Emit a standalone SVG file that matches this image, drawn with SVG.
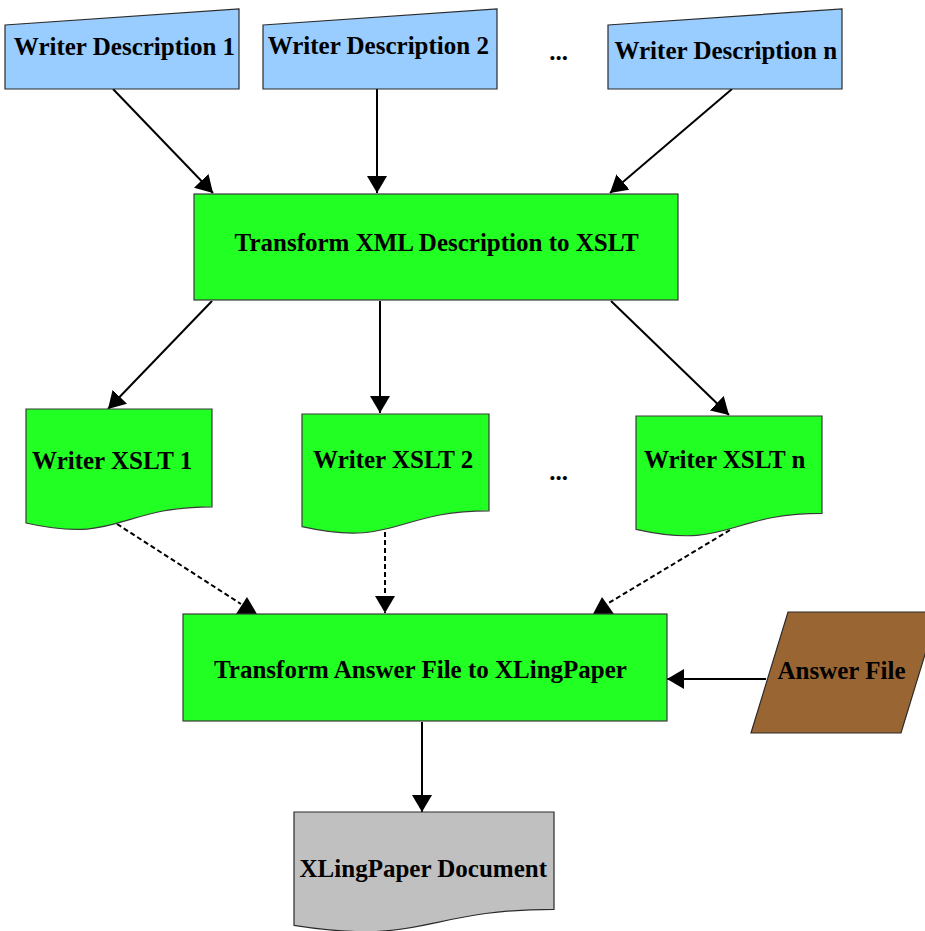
<svg xmlns="http://www.w3.org/2000/svg" width="925" height="931" viewBox="0 0 925 931">
<style>
.desc{fill:#99ccff;stroke:#2a2a2a;stroke-width:1.2}
.proc{fill:#22ff22;stroke:#3a3a3a;stroke-width:1.2}
.ans{fill:#996633;stroke:#2a2a2a;stroke-width:1.2}
.doc{fill:#c0c0c0;stroke:#2a2a2a;stroke-width:1.2}
.lbl{font-family:"Liberation Serif","Times New Roman",serif;font-weight:bold;font-size:25px;fill:#000;text-anchor:middle}
.edge{stroke:#000;stroke-width:2;fill:none}
.dash{stroke:#000;stroke-width:2;fill:none;stroke-dasharray:5 3}
.head{fill:#000}
</style>
<defs>
<marker id="arr" markerUnits="userSpaceOnUse" markerWidth="18" markerHeight="20" refX="17" refY="10" orient="auto" viewBox="0 0 18 20">
<path d="M0,0 L17,10 L0,20 z" fill="#000"/>
</marker>
</defs>
<g id="connectors">
<line class="edge" x1="113" y1="89" x2="213" y2="193" marker-end="url(#arr)"/>
<line class="edge" x1="377" y1="89" x2="377" y2="193" marker-end="url(#arr)"/>
<line class="edge" x1="732" y1="89" x2="610" y2="193" marker-end="url(#arr)"/>
<line class="edge" x1="212" y1="301" x2="108" y2="409" marker-end="url(#arr)"/>
<line class="edge" x1="380" y1="301" x2="380" y2="413" marker-end="url(#arr)"/>
<line class="edge" x1="611" y1="301" x2="729" y2="415" marker-end="url(#arr)"/>
<line class="dash" x1="117" y1="524" x2="241" y2="604"/>
<polygon class="head" points="247,597 236,614 257,614"/>
<line class="dash" x1="385" y1="532" x2="385" y2="613" marker-end="url(#arr)"/>
<line class="dash" x1="730" y1="530" x2="607" y2="604"/>
<polygon class="head" points="602,597 593,614 614,614"/>
<line class="edge" x1="766" y1="679" x2="667" y2="679" marker-end="url(#arr)"/>
<line class="edge" x1="422" y1="722" x2="422" y2="812" marker-end="url(#arr)"/>
</g>
<g id="desc1">
<polygon class="desc" points="5,25 239,9 239,89 5,89"/>
<text class="lbl" x="124.5" y="55">Writer Description 1</text>
</g>
<g id="desc2">
<polygon class="desc" points="263,25 497,9 497,89 263,89"/>
<text class="lbl" x="378.3" y="54">Writer Description 2</text>
</g>
<g id="dots1">
<text class="lbl" x="558.7" y="60">...</text>
</g>
<g id="descn">
<polygon class="desc" points="608,25 842,9 842,89 608,89"/>
<text class="lbl" x="725.8" y="59">Writer Description n</text>
</g>
<g id="transformXml">
<rect class="proc" x="194" y="194" width="484" height="106"/>
<text class="lbl" x="436.7" y="251">Transform XML Description to XSLT</text>
</g>
<g id="xslt1">
<path class="proc" d="M26,409 H212 V506.8 C119,506.8 119,544.1 26,523 Z"/>
<text class="lbl" x="112.2" y="469">Writer XSLT 1</text>
</g>
<g id="xslt2">
<path class="proc" d="M302,414 H489 V510.8 C395.5,510.8 395.5,547.7 302,526.7 Z"/>
<text class="lbl" x="393.2" y="467.7">Writer XSLT 2</text>
</g>
<g id="dots2">
<text class="lbl" x="558.7" y="480">...</text>
</g>
<g id="xsltn">
<path class="proc" d="M636,416 H822 V513.3 C729,513.3 729,550.3 636,529.3 Z"/>
<text class="lbl" x="724.7" y="467.7">Writer XSLT n</text>
</g>
<g id="transformAnswer">
<rect class="proc" x="183" y="614" width="484" height="107"/>
<text class="lbl" x="420.5" y="678.3">Transform Answer File to XLingPaper</text>
</g>
<g id="answerFile">
<polygon class="ans" points="788,612 938,612 901,733 751,733"/>
<text class="lbl" x="841.5" y="679">Answer File</text>
</g>
<g id="xlingDoc">
<path class="doc" d="M294,812 H554 V909.3 C424,909.3 424,946.3 294,925.3 Z"/>
<text class="lbl" x="423.3" y="876.7">XLingPaper Document</text>
</g>
</svg>
